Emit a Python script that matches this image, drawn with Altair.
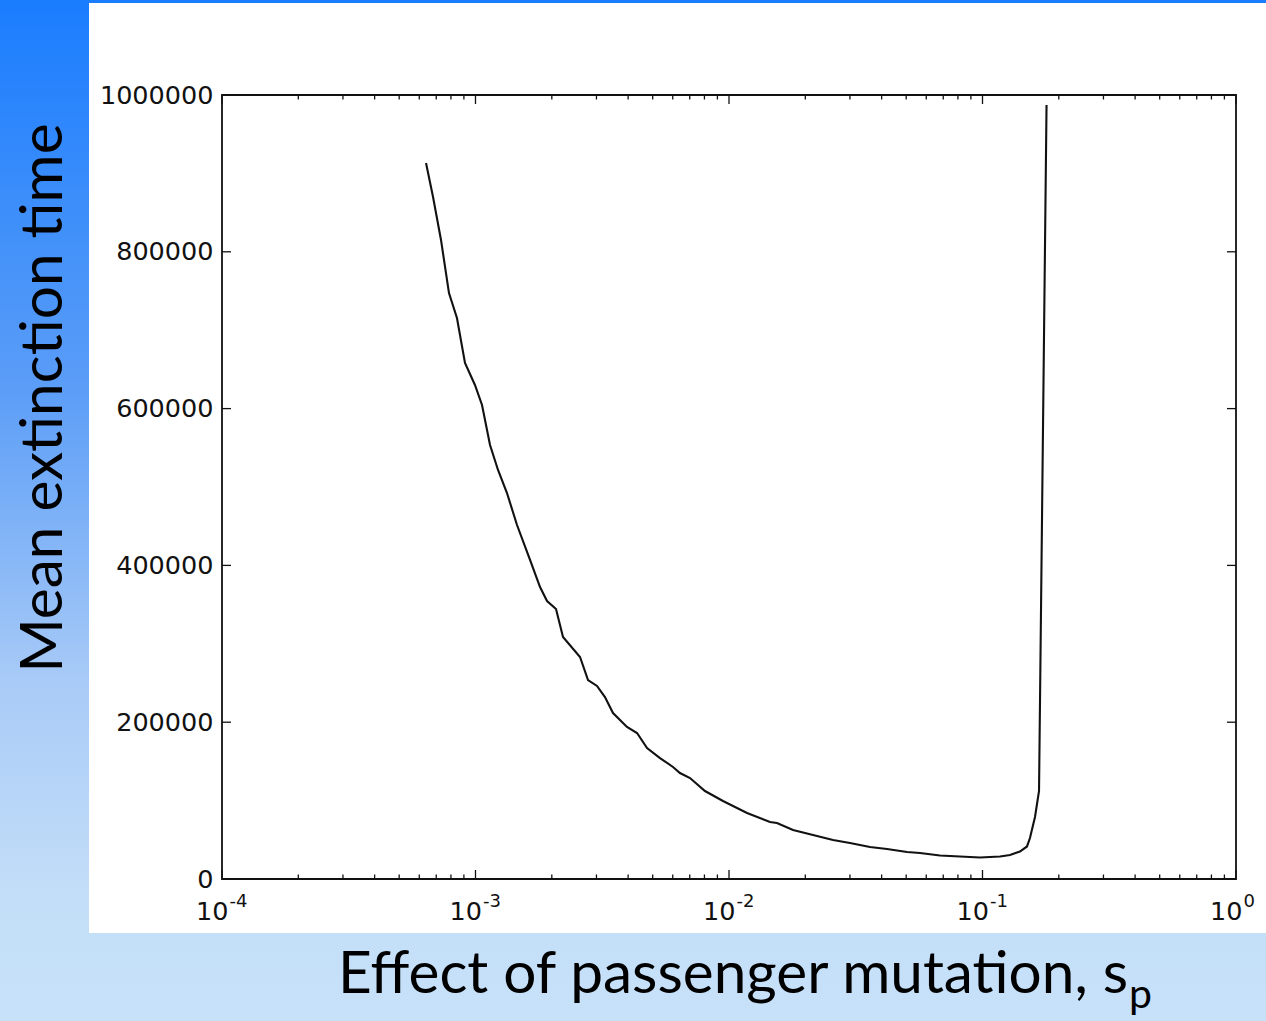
import altair as alt
import pandas as pd

# ---- data ----
s_values = [6.38e-4, 6.80e-4, 7.31e-4, 7.86e-4, 8.45e-4, 9.09e-4, 9.95e-4, 1.061e-3,
            1.141e-3, 1.227e-3, 1.331e-3, 1.458e-3, 1.641e-3, 1.797e-3, 1.915e-3,
            2.078e-3, 2.214e-3, 2.584e-3, 2.779e-3, 3.015e-3, 3.241e-3, 3.487e-3,
            3.959e-3, 4.337e-3, 4.75e-3, 5.343e-3, 6.013e-3, 6.406e-3, 7.018e-3,
            8.04e-3, 9.47e-3, 1.178e-2, 1.451e-2, 1.546e-2, 1.789e-2, 2.145e-2,
            2.572e-2, 3.001e-2, 3.598e-2, 4.2e-2, 5.038e-2, 5.668e-2, 6.796e-2,
            8.148e-2, 9.775e-2, 0.1172, 0.1284, 0.1405, 0.1498, 0.1539, 0.1611,
            0.1671, 0.1789]
t_values = [913300, 869900, 815100, 747400, 715600, 658200, 630100, 604600,
            553600, 521700, 492300, 451500, 406900, 372400, 354600,
            344400, 308700, 283200, 253800, 246200, 232100, 211700,
            193900, 186200, 167100, 154300, 142900, 135200, 128800,
            112200, 99500, 84200, 72700, 71400, 62500, 56100,
            49700, 45900, 40800, 38300, 34400, 33200, 30000,
            28700, 27400, 28700, 30600, 35100, 41500, 52300, 79100,
            112200, 987200]

x_major = [1e-4, 1e-3, 1e-2, 1e-1, 1.0]
x_label_base = ["10", "10", "10", "10", "10"]
x_label_exp = ["-4", "-3", "-2", "-1", "0"]
x_minor = [m * d for d in [1e-4, 1e-3, 1e-2, 1e-1] for m in range(2, 10)]
y_ticks = [0, 200000, 400000, 600000, 800000, 1000000]

x_title = "Effect of passenger mutation, s"
x_title_sub = "p"
y_title = "Mean extinction time"

W, H = 1014, 784
PAD = {"left": 222, "top": 95, "right": 30, "bottom": 142}

curve = pd.DataFrame({"s": s_values, "t": t_values})
one = pd.DataFrame({"k": [0]})
xmaj = pd.DataFrame({"s": x_major, "base": x_label_base, "exp": x_label_exp})
xmin = pd.DataFrame({"s": x_minor})
ytk = pd.DataFrame({"t": y_ticks})

xscale = alt.Scale(type="log", domain=[1e-4, 1.0], nice=False)
yscale = alt.Scale(domain=[0, 1000000], nice=False, zero=False)

yaxis = alt.Axis(
    values=y_ticks, format="d", ticks=False, domain=False, grid=False,
    labelFont="DejaVu Sans", labelFontSize=25.5, labelColor="#111111",
    labelBaseline="middle", labelPadding=9, labelFlush=False,
    labelOverlap=False, title=None, zindex=2)

X = alt.X("s:Q", scale=xscale, axis=None)
Y = alt.Y("t:Q", scale=yscale, axis=yaxis)

grad = alt.LinearGradient(
    gradient="linear",
    stops=[
        alt.GradientStop(color="#1a7dfe", offset=0),
        alt.GradientStop(color="#5b9df7", offset=0.38),
        alt.GradientStop(color="#a9cbf7", offset=0.67),
        alt.GradientStop(color="#c3def8", offset=0.88),
        alt.GradientStop(color="#c7e1f9", offset=1),
    ],
    x1=0, x2=0, y1=0, y2=1,
)

bg = alt.Chart(one).mark_rect(fill=grad).encode(
    x=alt.value(-PAD["left"]), x2=alt.value(W + PAD["right"]),
    y=alt.value(-PAD["top"]), y2=alt.value(H + PAD["bottom"]))

panel = alt.Chart(one).mark_rect(fill="white").encode(
    x=alt.value(89 - PAD["left"]), x2=alt.value(W + PAD["right"]),
    y=alt.value(3 - PAD["top"]), y2=alt.value(933 - PAD["top"]))

tick_color = "#111111"
MAJ, MIN = 9, 4.5

def xticks(df, length):
    b = alt.Chart(df).mark_rule(color=tick_color, strokeWidth=1.3).encode(
        x=X, y=alt.value(H), y2=alt.value(H - length))
    t = alt.Chart(df).mark_rule(color=tick_color, strokeWidth=1.3).encode(
        x=X, y=alt.value(0), y2=alt.value(length))
    return [b, t]

yt_left = alt.Chart(ytk).mark_rule(color=tick_color, strokeWidth=1.3).encode(
    y=Y, x=alt.value(0), x2=alt.value(MAJ))
yt_right = alt.Chart(ytk).mark_rule(color=tick_color, strokeWidth=1.3).encode(
    y=Y, x=alt.value(W), x2=alt.value(W - MAJ))

# x tick labels: "10" with a raised exponent
xlab_base = alt.Chart(xmaj).mark_text(
    font="DejaVu Sans", fontSize=25.5, color="#111111", align="right",
    baseline="alphabetic", dx=6.5).encode(
    x=X, y=alt.value(920 - PAD["top"]), text="base:N")
xlab_exp = alt.Chart(xmaj).mark_text(
    font="DejaVu Sans", fontSize=18, color="#111111", align="left",
    baseline="alphabetic", dx=7.5).encode(
    x=X, y=alt.value(907 - PAD["top"]), text="exp:N")

line = alt.Chart(curve).mark_line(color="#111111", strokeWidth=2.1).encode(
    x=X, y=Y, order=alt.Order("s:Q"))

frame = alt.Chart(one).mark_rect(fillOpacity=0, stroke="#111111", strokeWidth=1.8).encode(
    x=alt.value(0), x2=alt.value(W), y=alt.value(0), y2=alt.value(H))

ytitle = alt.Chart(one).mark_text(
    text=y_title, font="Lato", fontSize=58.5, angle=270, align="center",
    baseline="alphabetic", color="black").encode(
    x=alt.value(62 - PAD["left"]), y=alt.value(398 - PAD["top"]))

xtitle = alt.Chart(one).mark_text(
    text=x_title, font="Lato", fontSize=58.5, align="right",
    baseline="alphabetic", color="black").encode(
    x=alt.value(1128 - PAD["left"]), y=alt.value(993 - PAD["top"]))

xsub = alt.Chart(one).mark_text(
    text=x_title_sub, font="Lato", fontSize=41, align="left",
    baseline="alphabetic", color="black").encode(
    x=alt.value(1129 - PAD["left"]), y=alt.value(1008 - PAD["top"]))

layers = ([bg, panel] + xticks(xmaj, MAJ) + xticks(xmin, MIN)
          + [yt_left, yt_right, line, frame, xlab_base, xlab_exp, ytitle, xtitle, xsub])

chart = alt.layer(*layers).properties(
    width=W, height=H, padding=PAD,
    autosize=alt.AutoSizeParams(type="none"),
).configure_view(stroke="transparent").configure(background="white")

chart.save("out.html", embed_options={"renderer": "svg", "actions": False})
